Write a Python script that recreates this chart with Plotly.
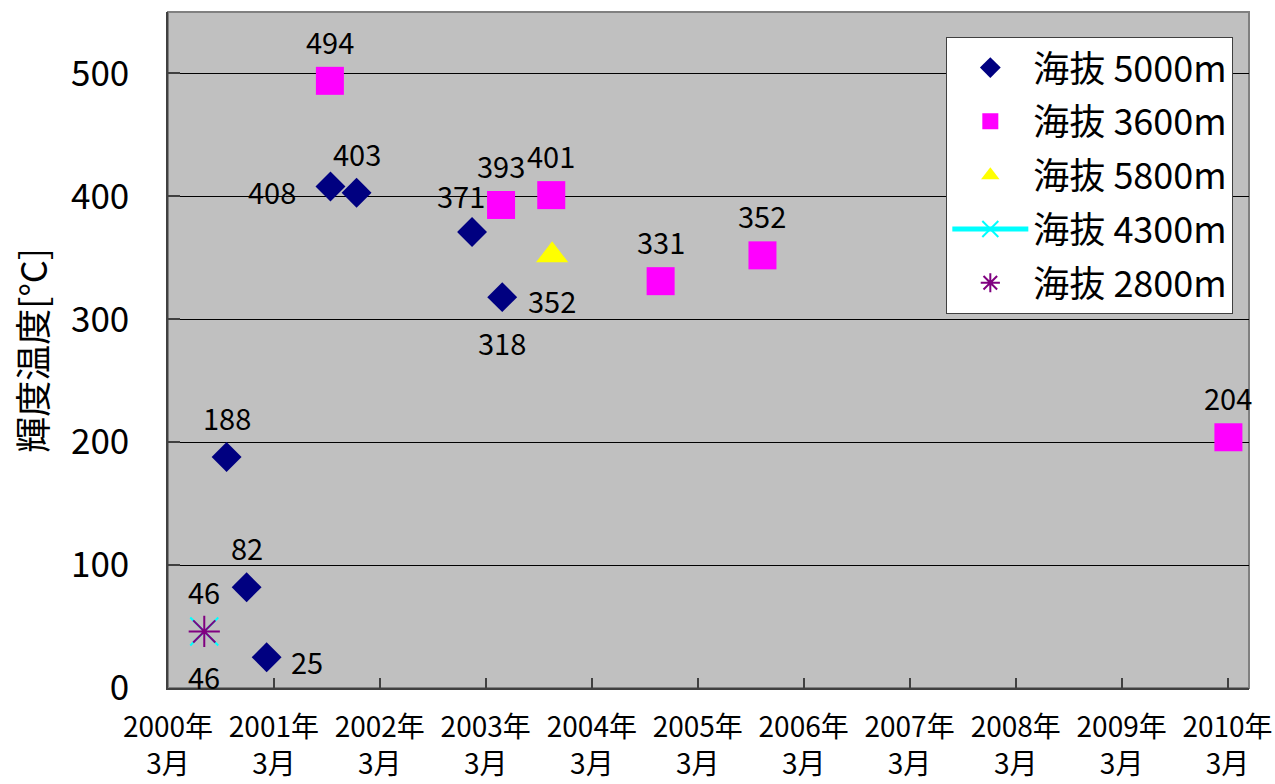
import plotly.graph_objects as go

FONT = "Noto Sans CJK JP"

# Observation dates and brightness temperatures per altitude
dates_5000 = ["2000-09-19", "2000-11-27", "2001-02-04", "2001-09-12",
              "2001-12-11", "2003-01-13", "2003-04-27"]
temps_5000 = [188, 82, 25, 408, 403, 371, 318]

dates_3600 = ["2001-09-10", "2003-04-23", "2003-10-13", "2004-10-24",
              "2005-10-10", "2010-03-04"]
temps_3600 = [494, 393, 401, 331, 352, 204]

dates_5800 = ["2003-10-16"]
temps_5800 = [352]

dates_4300 = ["2000-07-04"]
temps_4300 = [46]

dates_2800 = ["2000-07-04"]
temps_2800 = [46]

tick_dates = [f"{y}-03-01" for y in range(2000, 2011)]
tick_text = [f"{y}年<br>3月" for y in range(2000, 2011)]
y_ticks = [0, 100, 200, 300, 400, 500]

# where each value label sits relative to its marker
place_5000 = ["top", "top", "right", "left", "top", "topleft", "bottom"]
place_3600 = ["top", "top", "top", "top", "top", "top"]
place_5800 = ["bottom"]
place_4300 = ["top"]
place_2800 = ["bottom"]

series = [
    ("海抜 5000m", dates_5000, temps_5000, place_5000,
     dict(symbol="diamond", size=23, color="#000080", line=dict(width=0)), "markers", None),
    ("海抜 3600m", dates_3600, temps_3600, place_3600,
     dict(symbol="square", size=28, color="#FF00FF", line=dict(width=0)), "markers", None),
    ("海抜 5800m", dates_5800, temps_5800, place_5800,
     dict(symbol="triangle-up", size=28, color="#FFFF00", line=dict(width=0)), "markers", None),
    ("海抜 4300m", dates_4300, temps_4300, place_4300,
     dict(symbol="x-thin-open", size=28, color="#00FFFF", line=dict(width=2, color="#00FFFF")),
     "lines+markers", dict(color="#00FFFF", width=5)),
    ("海抜 2800m", dates_2800, temps_2800, place_2800,
     dict(symbol="asterisk-open", size=26, color="#800080", line=dict(width=2, color="#800080")),
     "markers", None),
]

shift = {"top": (0, 40), "topleft": (-11, 37), "bottom": (0, -45),
         "left": (-58, -4), "right": (40, -4)}

fig = go.Figure()
annotations = []
for i, (name, xs, ys, places, marker, mode, line) in enumerate(series):
    kw = dict(x=xs, y=ys, name=name, mode=mode, marker=marker,
              legendgroup=f"g{i}", cliponaxis=False)
    if line is not None:
        kw["line"] = line
    fig.add_trace(go.Scatter(**kw))
    for x, y, p in zip(xs, ys, places):
        dx, dy = shift[p]
        annotations.append(dict(
            x=x, y=y, xref="x", yref="y", text=str(y), showarrow=False,
            xshift=dx, yshift=dy, font=dict(family=FONT, size=29, color="black"),
        ))

annotations.append(dict(
    x=-0.127, y=0.5, xref="paper", yref="paper", text="輝度温度[°C]",
    showarrow=False, textangle=-90, xanchor="center", yanchor="middle",
    font=dict(family=FONT, size=36, color="black"),
))

fig.update_layout(
    width=1275, height=784,
    margin=dict(l=168, r=26, t=12, b=96, autoexpand=False),
    paper_bgcolor="white",
    plot_bgcolor="#C0C0C0",
    font=dict(family=FONT, color="black"),
    showlegend=True,
    legend=dict(
        x=0.720, y=0.9635, xanchor="left", yanchor="top",
        bgcolor="white", bordercolor="#404040", borderwidth=1,
        font=dict(family=FONT, size=36, color="black"),
        traceorder="grouped", tracegroupgap=4, itemwidth=76,
    ),
    annotations=annotations,
    shapes=[dict(type="rect", xref="paper", yref="paper", x0=0, y0=0, x1=1, y1=1,
                 line=dict(color="#808080", width=2), layer="below")],
)

fig.update_xaxes(
    type="date", range=["2000-03-01", "2010-05-14"], automargin=False,
    tickmode="array", tickvals=tick_dates, ticktext=tick_text,
    ticks="inside", ticklen=10, tickwidth=1.5, tickcolor="#404040",
    showgrid=False, zeroline=False,
    showline=True, linecolor="#404040", linewidth=1.5,
    tickfont=dict(family=FONT, size=28, color="black"),
    ticklabelstandoff=14,
)
fig.update_yaxes(
    range=[0, 550], tickmode="array", tickvals=y_ticks, automargin=False,
    ticks="inside", ticklen=12, tickwidth=1.5, tickcolor="#404040",
    showgrid=True, gridcolor="black", gridwidth=1, zeroline=False,
    showline=True, linecolor="#404040", linewidth=1.5,
    tickfont=dict(family=FONT, size=35, color="black"),
    ticklabelstandoff=30,
)

fig.write_html("out.html")
